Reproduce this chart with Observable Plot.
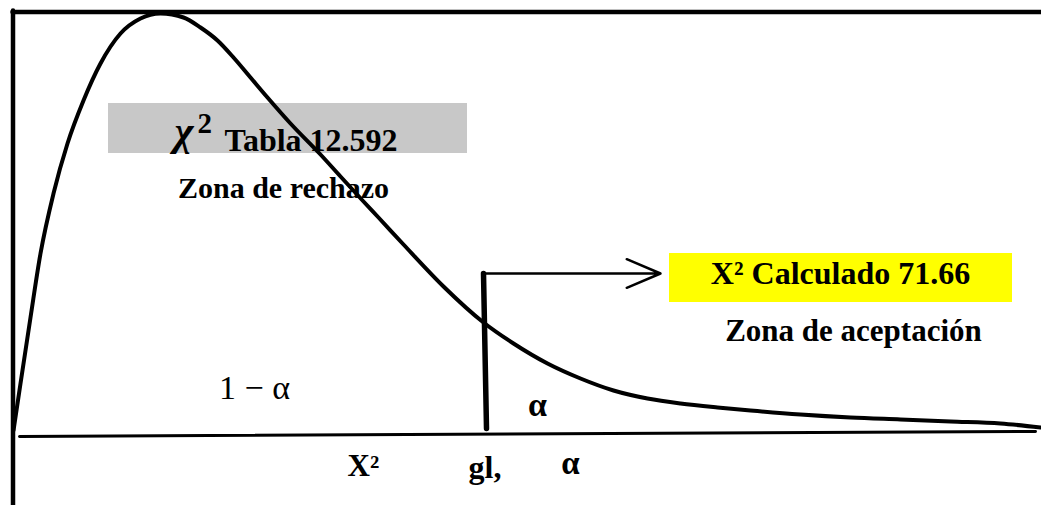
<!DOCTYPE html>
<html><head><meta charset="utf-8">
<script src="https://cdn.jsdelivr.net/npm/d3@7"></script>
<script src="https://cdn.jsdelivr.net/npm/@observablehq/plot@0.6"></script>
<style>body{margin:0;background:#fff}</style>
</head><body><div id="chart"></div>
<script>
// Chi-square curve (x = horizontal position, h = height above the axis)
const curveX = [13, 20, 30, 40, 53, 67, 83, 100, 120, 140, 160, 183, 200, 217, 233, 250, 267, 290, 320, 340, 363, 378, 403, 443, 483, 513, 547, 580, 613, 647, 680, 717, 750, 800, 850, 900, 950, 1000, 1040];
const curveH = [4, 51, 117, 181, 241, 291, 334, 371, 401, 416, 421, 417, 407, 394, 377, 357, 337, 311, 280, 258, 233, 217, 190, 148, 112, 91, 71, 56, 44, 36, 31, 27, 24, 20, 17, 15, 13, 11, 7];

// Frame and reference lines
const axisX = [19, 1035];
const axisH = [-2, 3];
const frameLeftX = [12.5, 12.5];
const frameLeftH = [424, -71];
const frameTopX = [12, 1041];
const frameTopH = [422.5, 422.5];
const criticalX = [483, 486];
const criticalH = [161, 6];
const arrowX = [485, 660];
const arrowH = [161, 161];

// Highlight boxes
const boxNames = ["tabla", "calculado"];
const boxX1 = [108, 669];
const boxX2 = [467, 1012];
const boxH1 = [281, 132];
const boxH2 = [331, 181];
const boxFill = ["#c8c8c8", "#ffff00"];

// Labels
const labelText = ["Tabla 12.592", "Zona de rechazo", "X² Calculado 71.66", "Zona de aceptación", "X²", "gl,", "α", "α"];
const labelX = [224, 283, 840, 853, 347, 468, 570, 537];
const labelH = [284, 237, 151, 94, -41, -43, -39, 19];
const labelAnchor = ["start", "middle", "middle", "middle", "start", "start", "middle", "middle"];
const labelSize = [32, 30, 32, 31, 31, 32, 33, 34];

const mathText = ["1 − α"];
const mathX = [254];
const mathH = [36];

const curve = curveX.map((x, i) => ({x, h: curveH[i]}));
const seg = (xs, hs) => xs.map((x, i) => ({x, h: hs[i]}));
const boxes = boxNames.map((n, i) => ({n, x1: boxX1[i], x2: boxX2[i], h1: boxH1[i], h2: boxH2[i], fill: boxFill[i]}));
const labels = labelText.map((t, i) => ({t, x: labelX[i], h: labelH[i], a: labelAnchor[i], s: labelSize[i]}));
const maths = mathText.map((t, i) => ({t, x: mathX[i], h: mathH[i]}));

const serif = "'Liberation Serif', 'Times New Roman', serif";

const marks = [
  Plot.rect(boxes, {x1: "x1", x2: "x2", y1: "h1", y2: "h2", fill: d => d.fill}),
  Plot.line(seg(frameTopX, frameTopH), {x: "x", y: "h", stroke: "#000", strokeWidth: 4.5}),
  Plot.line(seg(frameLeftX, frameLeftH), {x: "x", y: "h", stroke: "#000", strokeWidth: 4.5}),
  Plot.line(seg(axisX, axisH), {x: "x", y: "h", stroke: "#000", strokeWidth: 3}),
  Plot.line(seg(criticalX, criticalH), {x: "x", y: "h", stroke: "#000", strokeWidth: 5.5}),
  Plot.arrow([{x1: arrowX[0], x2: arrowX[1], h1: arrowH[0], h2: arrowH[1]}], {x1: "x1", x2: "x2", y1: "h1", y2: "h2", stroke: "#000", strokeWidth: 2.5, headLength: 22, headAngle: 46}),
  Plot.line(curve, {x: "x", y: "h", curve: "monotone-x", stroke: "#000", strokeWidth: 4}),
  // chi symbol with superscript 2 (table value label)
  Plot.text([{x: 174, h: 290}], {x: "x", y: "h", text: () => "χ", fontSize: 41, fontStyle: "italic", fontWeight: "bold", fontFamily: serif, textAnchor: "start", lineAnchor: "bottom", fill: "#000"}),
  Plot.text([{x: 197, h: 302}], {x: "x", y: "h", text: () => "2", fontSize: 29, fontWeight: "bold", fontFamily: serif, textAnchor: "start", lineAnchor: "bottom", fill: "#000"}),
];
for (const l of labels) {
  marks.push(Plot.text([l], {x: "x", y: "h", text: "t", fontSize: l.s, fontWeight: "bold", fontFamily: serif, textAnchor: l.a, lineAnchor: "bottom", fill: "#000"}));
}
marks.push(Plot.text(maths, {x: "x", y: "h", text: "t", fontSize: 34, fontFamily: serif, textAnchor: "middle", lineAnchor: "bottom", fill: "#000"}));

const chart = Plot.plot({
  width: 1041,
  height: 505,
  margin: 0,
  x: {domain: [0, 1041], axis: null},
  y: {domain: [-71, 434], axis: null},
  style: {background: "#fff", overflow: "visible"},
  marks
});
document.getElementById("chart").appendChild(chart);
</script>
</body></html>
